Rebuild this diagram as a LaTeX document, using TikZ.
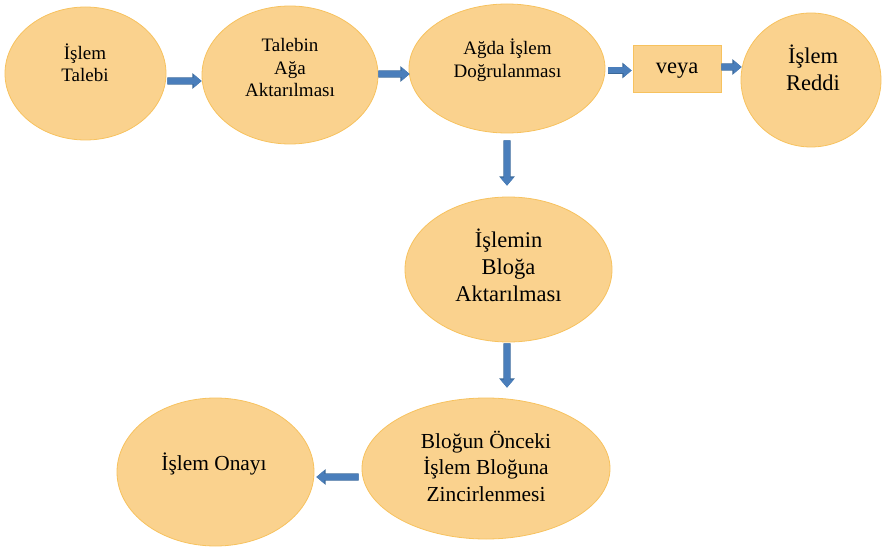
\documentclass[tikz,border=0pt]{standalone}
\usepackage{fontspec}
\setmainfont{Liberation Serif}
\usetikzlibrary{arrows.meta,shapes.geometric}
\definecolor{ellfill}{HTML}{FAD28E}
\definecolor{elldraw}{HTML}{F7C25E}
\definecolor{arrfill}{HTML}{4A7EBB}
\definecolor{arrdraw}{HTML}{3A6898}
\tikzset{
  ell/.style={ellipse, fill=ellfill, draw=elldraw, line width=0.8bp, inner sep=0pt},
  boxnode/.style={rectangle, fill=ellfill, draw=elldraw, line width=0.8bp, inner sep=0pt, minimum width=88bp, minimum height=47bp},
  txt/.style={align=center, inner sep=0pt, text=black},
  fa/.style={font=\fontsize{19bp}{22.5bp}\selectfont},
  fb/.style={font=\fontsize{22.5bp}{27.3bp}\selectfont},
  fc/.style={font=\fontsize{21.4bp}{26.7bp}\selectfont},
  blk/.style={line width=6bp, arrfill, -{Triangle[width=13bp,length=8bp]},
    preaction={draw, line width=7.4bp, arrdraw, -{Triangle[width=15bp,length=9.2bp]}}},
}
\begin{document}
\begin{tikzpicture}[x=1bp,y=-1bp]
\useasboundingbox (0,0) rectangle (882,548);
% shapes
\node[ell, minimum width=161bp, minimum height=133bp] (e1) at (85.5,73.5) {};
\node[ell, minimum width=176bp, minimum height=138bp] (e2) at (290,75) {};
\node[ell, minimum width=196bp, minimum height=129bp] (e3) at (507,68.5) {};
\node[boxnode] (v) at (677,68.5) {};
\node[ell, minimum width=140bp, minimum height=134bp] (e5) at (811,80) {};
\node[ell, minimum width=207bp, minimum height=145bp] (e6) at (508.5,269.5) {};
\node[ell, minimum width=248bp, minimum height=141bp] (e7) at (486,468.5) {};
\node[ell, minimum width=197bp, minimum height=148bp] (e8) at (215.5,472) {};
% texts
\node[txt, fa] (t1) at (85,63) {İşlem\\Talebi};
\node[txt, fa] (t2) at (290,67.6) {Talebin\\Ağa\\Aktarılması};
\node[txt, fa] (t3) at (507.5,60.1) {Ağda İşlem\\Doğrulanması};
\node[txt, fb, anchor=base] (t4) at (677,74) {veya};
\node[txt, fb] (t5) at (813,67.7) {İşlem\\Reddi};
\node[txt, fb] (t6) at (508.5,265.5) {İşlemin\\Bloğa\\Aktarılması};
\node[txt, fc] (t7) at (486,466.3) {Bloğun Önceki\\İşlem Bloğuna\\Zincirlenmesi};
\node[txt, fc, anchor=base] (t8) at (214,470) {İşlem Onayı};
% arrows
\draw[blk] ([xshift=1bp,yshift=-7.5bp]e1.east) -- ([yshift=-6bp]e2.west);
\draw[blk] ([yshift=1bp]e2.east) -- ([xshift=1bp,yshift=-5.5bp]e3.west);
\draw[blk] ([xshift=3bp,yshift=-2bp]e3.east) -- ([xshift=-1bp,yshift=-2bp]v.west);
\draw[blk] ([yshift=1.5bp]v.east) -- ([xshift=1bp,yshift=13bp]e5.west);
\draw[blk] ([yshift=-7bp]e3.south) -- ([xshift=-1.5bp,yshift=11bp]e6.north);
\draw[blk] ([xshift=-1.5bp,yshift=-1bp]e6.south) -- ([xshift=21bp,yshift=10bp]e7.north);
\draw[blk] ([xshift=-3bp,yshift=-8.5bp]e7.west) -- ([xshift=2bp,yshift=-5bp]e8.east);
\end{tikzpicture}
\end{document}
